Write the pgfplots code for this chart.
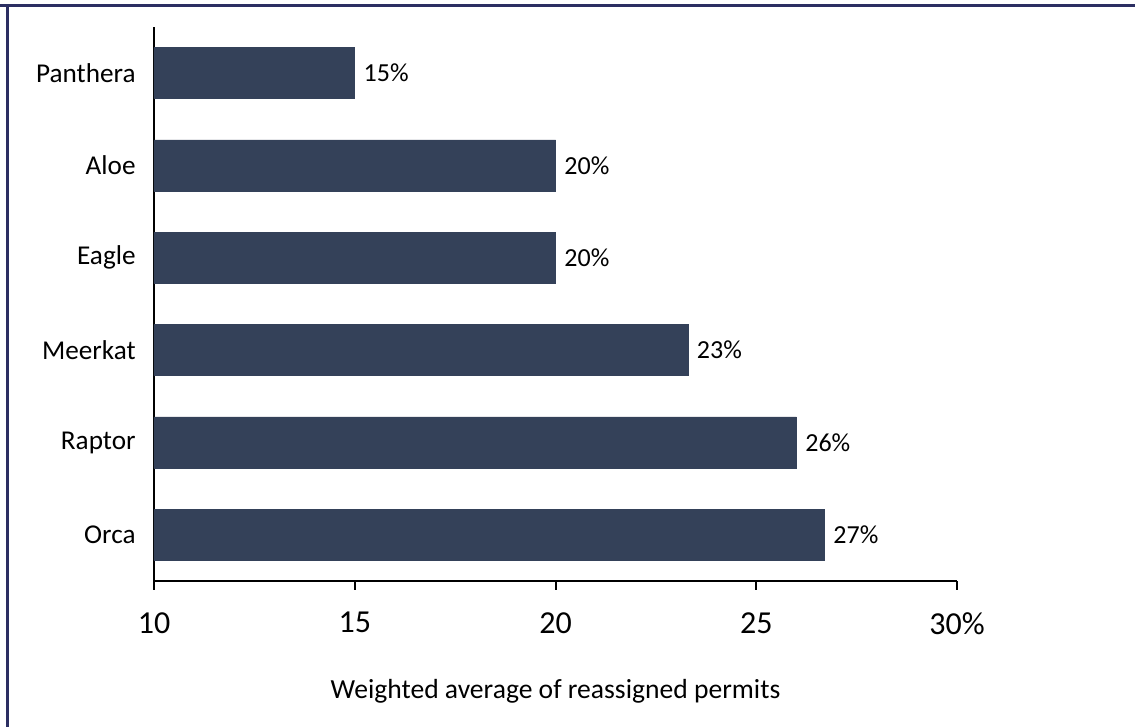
\documentclass[border=0pt]{standalone}
\usepackage{pgfplots}
\pgfplotsset{compat=1.18}
\usepackage{pgfplotstable}
\usepackage{fontspec}
\setmainfont{Carlito}
\definecolor{barc}{HTML}{344159}
\definecolor{framec}{HTML}{2C2F62}
\pgfplotstableread{
y x lab
0 26.7 27\%
1 26.0 26\%
2 23.3 23\%
3 20.0 20\%
4 20.0 20\%
5 15.0 15\%
}\datatab
\begin{document}
\begin{tikzpicture}
\useasboundingbox (0,0) rectangle (567.5pt,363.5pt);
\draw[framec, line width=1.5pt] (0pt,360.75pt) -- (567.5pt,360.75pt);
\draw[framec, line width=1.5pt] (3.5pt,0pt) -- (3.5pt,361.5pt);
\begin{axis}[
  at={(77pt,73pt)}, anchor=south west,
  width=401.5pt, height=277pt, scale only axis,
  xbar, bar width=25.5pt,
  xmin=10, xmax=30, ymin=-0.5, ymax=5.5,
  axis x line*=bottom, axis y line*=left,
  axis line style={black, line width=1pt, -},
  xtick={10,15,20,25,30},
  xticklabels={10,15,20,25,30\%},
  ytick={0,1,2,3,4,5},
  yticklabels={Orca,Raptor,Meerkat,Eagle,Aloe,Panthera},
  tick align=outside,
  x tick style={black, line width=1pt},
  major tick length=4.5pt,
  y tick style={draw=none},
  xticklabel style={font=\fontsize{16}{19}\selectfont, inner sep=0pt, anchor=north, yshift=-11pt},
  yticklabel style={font=\fontsize{13.6}{16}\selectfont, inner sep=0pt, anchor=east, xshift=-4.5pt},
  xlabel={Weighted average of reassigned permits},
  xlabel style={font=\fontsize{13.8}{16}\selectfont, at={(axis description cs:0.5,0)}, anchor=center, yshift=-55pt},
  nodes near coords,
  point meta=explicit symbolic,
  every node near coord/.append style={font=\fontsize{13}{15}\selectfont, black, anchor=west, xshift=1pt},
  clip=true,
]
\addplot[fill=barc, draw=barc, line width=0.3pt] table[x=x, y=y, meta=lab] {\datatab};
\end{axis}
\end{tikzpicture}
\end{document}
